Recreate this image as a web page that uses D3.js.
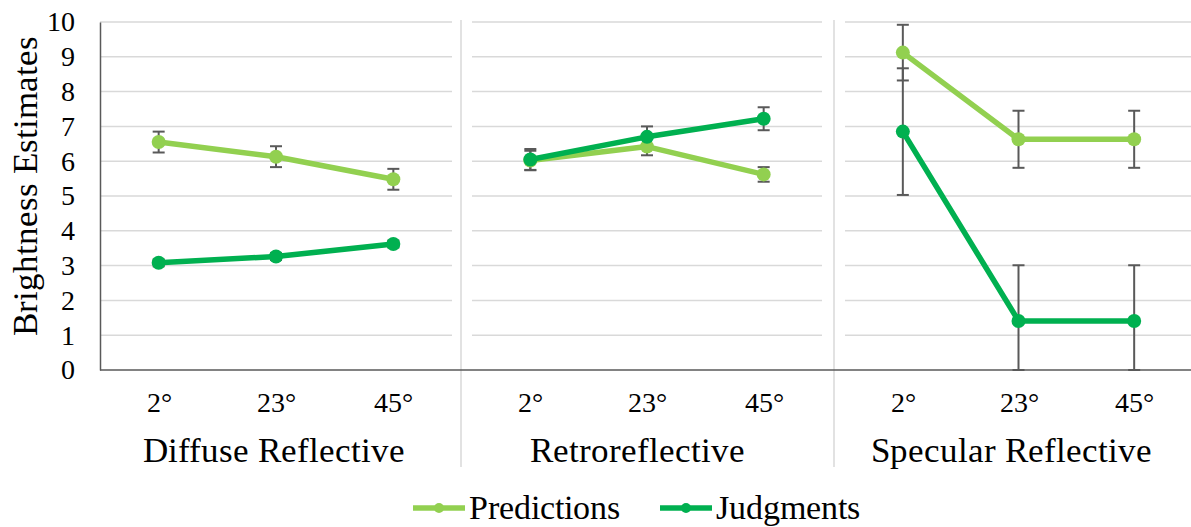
<!DOCTYPE html>
<html>
<head>
<meta charset="utf-8">
<script src="https://cdn.jsdelivr.net/npm/d3@7"></script>
<style>
  @font-face {
    font-family: "ChartSerif";
    src: local("Liberation Serif"), local("LiberationSerif-Regular"), local("Times New Roman");
  }
  html, body { margin: 0; padding: 0; background: #fff; }
  #chart text { font-family: "ChartSerif", "Times New Roman", "Liberation Serif", Tinos, serif !important; }
</style>
</head>
<body>
<svg id="chart" width="1191" height="527"></svg>
<script>
// Reflectance groups and viewing angles
const groups = ["Diffuse Reflective", "Retroreflective", "Specular Reflective"];
const angles = ["2°", "23°", "45°"];
const yTicks = [0, 1, 2, 3, 4, 5, 6, 7, 8, 9, 10];

// Mean brightness estimates, one row per group, one value per angle
const predictions = [
  [6.55, 6.13, 5.48],
  [6.02, 6.42, 5.62],
  [9.12, 6.63, 6.63]
];
const judgments = [
  [3.08, 3.26, 3.62],
  [6.05, 6.70, 7.22],
  [6.85, 1.41, 1.41]
];
// Error bar half-widths
const predictionsErr = [
  [0.30, 0.30, 0.30],
  [0.28, 0.25, 0.21],
  [0.80, 0.82, 0.82]
];
const judgmentsErr = [
  [0.10, 0.10, 0.10],
  [0.30, 0.30, 0.33],
  [1.82, 1.60, 1.60]
];

const series = [
  { name: "Predictions", values: predictions, err: predictionsErr, color: "#92D050" },
  { name: "Judgments", values: judgments, err: judgmentsErr, color: "#00B050" }
];

const svg = d3.select("#chart");
const plotTop = 22, plotBottom = 370;
const panelRanges = [[100, 452], [472, 822], [845, 1192]];
const separators = [461, 834];

const y = d3.scaleLinear().domain([0, 10]).range([plotBottom, plotTop]);

function label(sel, size) {
  return sel.attr("font-family", "Times New Roman")
    .attr("font-size", size)
    .attr("fill", "#000");
}

// Gridlines per panel
panelRanges.forEach(r => {
  svg.append("g").selectAll("line").data(yTicks.filter(t => t > 0)).join("line")
    .attr("x1", r[0]).attr("x2", r[1])
    .attr("y1", d => y(d)).attr("y2", d => y(d))
    .attr("stroke", "#d9d9d9").attr("stroke-width", 1.5);
});

// Panel separators
svg.append("g").selectAll("line").data(separators).join("line")
  .attr("x1", d => d).attr("x2", d => d)
  .attr("y1", 20).attr("y2", 467)
  .attr("stroke", "#d9d9d9").attr("stroke-width", 1.5);

// Y axis
const yAxis = svg.append("g").attr("transform", "translate(100,0)")
  .call(d3.axisLeft(y).tickValues(yTicks).tickSize(0).tickPadding(25).tickFormat(d3.format("d")));
label(yAxis, 28);
yAxis.select(".domain").attr("stroke", "#595959").attr("stroke-width", 1.5);
label(yAxis.selectAll("text"), 28);

// Baseline across all panels
svg.append("line")
  .attr("x1", 100).attr("x2", 1191)
  .attr("y1", plotBottom).attr("y2", plotBottom)
  .attr("stroke", "#595959").attr("stroke-width", 1.5);

label(svg.append("text"), 35)
  .attr("transform", `translate(37,${(plotTop + plotBottom) / 2 - 10}) rotate(-90)`)
  .attr("text-anchor", "middle")
  .text("Brightness Estimates");

// Per-panel scales, points and labels
groups.forEach((g, gi) => {
  const r = panelRanges[gi];
  const x = d3.scalePoint().domain(angles).range(r).padding(0.5);

  const xAxis = svg.append("g").attr("transform", `translate(0,${plotBottom})`)
    .call(d3.axisBottom(x).tickSize(0).tickPadding(22));
  label(xAxis, 28);
  xAxis.select(".domain").remove();
  label(xAxis.selectAll("text"), 28);

  label(svg.append("text"), 35)
    .attr("x", (r[0] + r[1]) / 2 + (gi === 0 ? -2 : gi === 2 ? -7 : -10))
    .attr("y", 462)
    .attr("text-anchor", "middle")
    .text(g);

  const layer = svg.append("g");

  // Error bars
  series.forEach(s => {
    angles.forEach((a, ai) => {
      const v = s.values[gi][ai], e = s.err[gi][ai];
      const lo = Math.max(0, v - e), hi = Math.min(10, v + e);
      const cx = x(a);
      const eg = layer.append("g").attr("stroke", "#595959").attr("stroke-width", 2);
      eg.append("line").attr("x1", cx).attr("x2", cx).attr("y1", y(lo)).attr("y2", y(hi));
      eg.append("line").attr("x1", cx - 6).attr("x2", cx + 6).attr("y1", y(lo)).attr("y2", y(lo));
      eg.append("line").attr("x1", cx - 6).attr("x2", cx + 6).attr("y1", y(hi)).attr("y2", y(hi));
    });
  });

  // Lines and markers
  series.forEach(s => {
    const pts = angles.map((a, ai) => [x(a), y(s.values[gi][ai])]);
    layer.append("path")
      .attr("d", d3.line()(pts))
      .attr("fill", "none")
      .attr("stroke", s.color)
      .attr("stroke-width", 5.5)
      .attr("stroke-linejoin", "round");
    layer.append("g").selectAll("circle").data(pts).join("circle")
      .attr("cx", d => d[0]).attr("cy", d => d[1]).attr("r", 7)
      .attr("fill", s.color);
  });
});

// Legend
const legendItems = [
  { s: series[0], x: 413 },
  { s: series[1], x: 660 }
];
legendItems.forEach(item => {
  const lg = svg.append("g").attr("transform", `translate(${item.x},508)`);
  lg.append("line").attr("x1", 0).attr("x2", 52).attr("y1", 0).attr("y2", 0)
    .attr("stroke", item.s.color).attr("stroke-width", 5.5);
  lg.append("circle").attr("cx", 26).attr("cy", 0).attr("r", 5).attr("fill", item.s.color);
  label(lg.append("text"), 34)
    .attr("x", 56).attr("y", 11)
    .text(item.s.name);
});
</script>
</body>
</html>
